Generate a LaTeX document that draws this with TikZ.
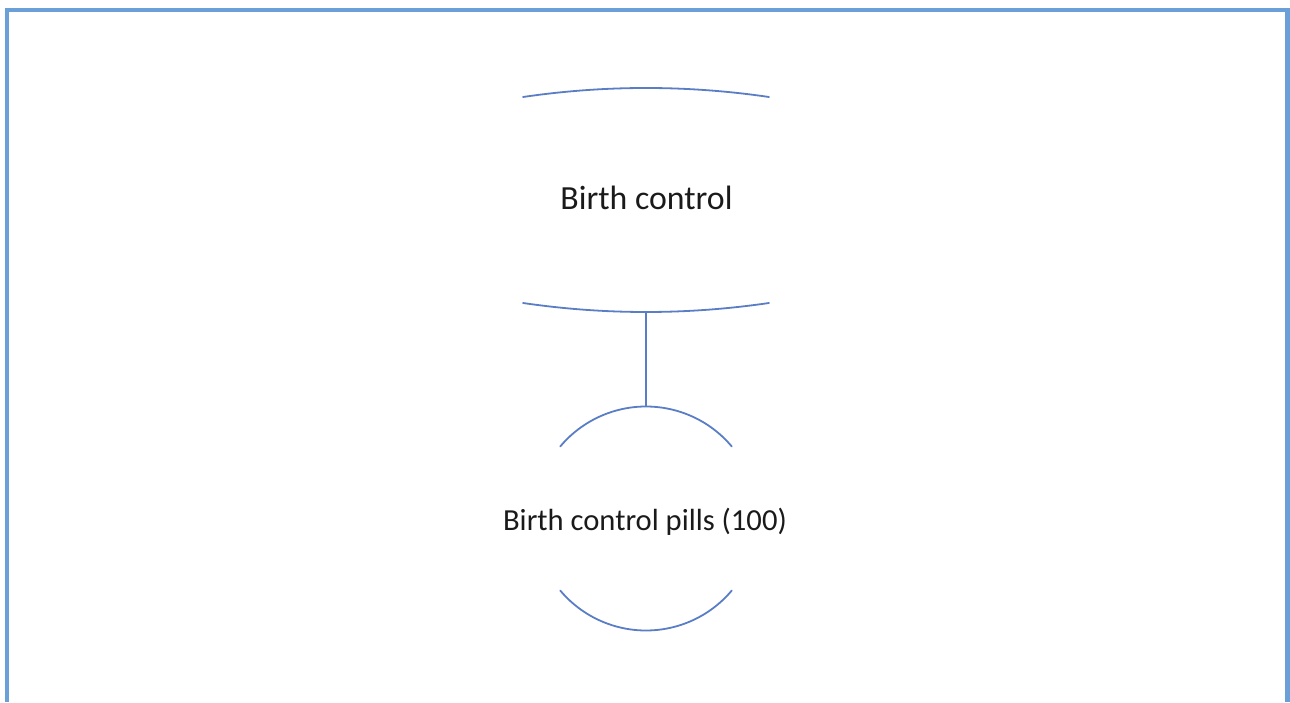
\documentclass[tikz,border=0pt]{standalone}
\usepackage{fontspec}
\setmainfont{Carlito}
\definecolor{frameblue}{HTML}{6A9FD8}
\definecolor{shapeblue}{HTML}{5A7EC6}
\definecolor{labelink}{HTML}{1A1A1A}
\begin{document}
\begin{tikzpicture}[x=1pt,y=1pt,
  frameline/.style={draw=frameblue, line width=4.5pt},
  shapeline/.style={draw=shapeblue, line width=1.8pt, line cap=round},
  label/.style={text=labelink, inner sep=0pt, anchor=base}]
\useasboundingbox (0,0) rectangle (1290,702);

% outer frame, open at the bottom
\draw[frameline] (7,0) -- (7,692) -- (1287.5,692) -- (1287.5,0);

% upper node: text between two shallow arcs
\node[label, font=\fontsize{33.8}{40}\selectfont] (ctrl) at (646.5,492) {Birth control};
\coordinate (ctrltopL) at (523,605);
\coordinate (ctrltopR) at (769,605);
\coordinate (ctrlbotL) at (523,399);
\coordinate (ctrlbotR) at (769,399);
\coordinate (ctrlbot) at (646,390);
\draw[shapeline] (ctrltopL) .. controls (605,617) and (687,617) .. (ctrltopR);
\draw[shapeline] (ctrlbotL) .. controls (605,387) and (687,387) .. (ctrlbotR);

% lower node: circle drawn as top and bottom arcs only
\node[circle, minimum size=224pt, inner sep=0pt, outer sep=0pt] (pills) at (646,183.5) {};
\node[label, font=\fontsize{30.6}{37}\selectfont] (pillstext) at (645,172) {Birth control pills (100)};
\draw[shapeline] (pills.40) arc[start angle=40, end angle=140, radius=112pt];
\draw[shapeline] (pills.-40) arc[start angle=-40, end angle=-140, radius=112pt];

% connector
\draw[shapeline, line cap=butt] (ctrlbot) -- (pills.north);
\end{tikzpicture}
\end{document}
